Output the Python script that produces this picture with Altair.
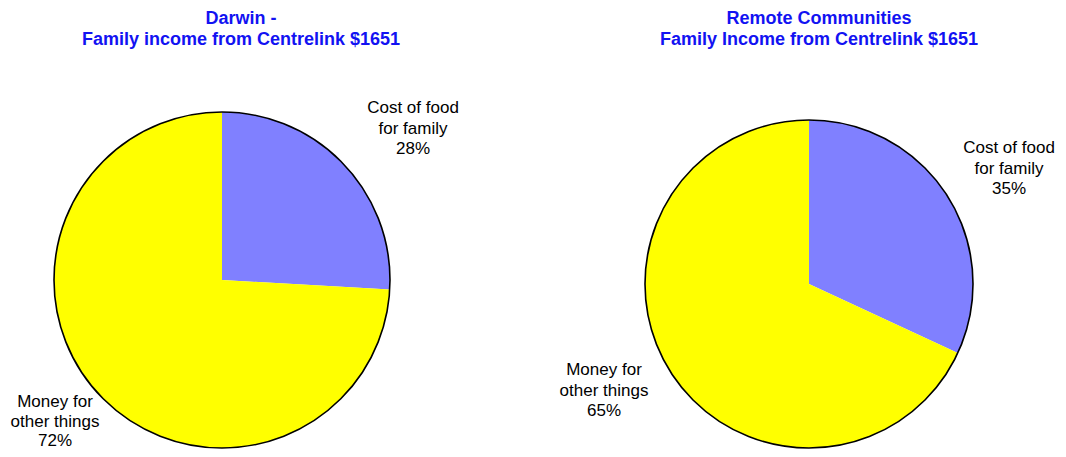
import altair as alt
import pandas as pd

# ---- data ----
categories = ["Cost of food for family", "Money for other things"]
darwin_share = [25.9, 74.1]      # slice sizes as drawn
remote_share = [31.9, 68.1]
darwin_pct_labels = ["28%", "72%"]  # printed labels
remote_pct_labels = ["35%", "65%"]
titles = [["Darwin -", "Family income from Centrelink $1651"],
          ["Remote Communities", "Family Income from Centrelink $1651"]]
slice_colors = ["#8080FF", "#FFFF00"]

W, H = 1050, 441
OFF = 8  # page margin

def pie(values, cx, cy, r):
    df = pd.DataFrame({"category": categories, "value": values, "idx": [0, 1]})
    arcs = alt.Chart(df).mark_arc(radius=r, strokeWidth=0).encode(
        theta=alt.Theta("value:Q", stack=True),
        color=alt.Color("category:N", scale=alt.Scale(domain=categories, range=slice_colors), legend=None),
        order=alt.Order("idx:Q"),
        x=alt.value(cx - OFF),
        y=alt.value(cy - OFF),
    )
    outline = alt.Chart(pd.DataFrame({"a": [1]})).mark_point(
        shape="circle", filled=False, stroke="black", strokeWidth=1.6, opacity=1
    ).encode(
        x=alt.value(cx - OFF),
        y=alt.value(cy - OFF),
        size=alt.value((2 * r) ** 2),
    )
    return arcs, outline

def text_block(lines, cx, cy, size=17, bold=False, color="black", lh=20.5):
    return alt.Chart(pd.DataFrame({"a": [1]})).mark_text(
        font="Liberation Sans", fontSize=size, fontWeight="bold" if bold else "normal",
        color=color, align="center", baseline="top", lineHeight=lh,
    ).encode(x=alt.value(cx - OFF), y=alt.value(cy - OFF), text=alt.value(lines))

a1, o1 = pie(darwin_share, 222, 280, 168)
a2, o2 = pie(remote_share, 809, 284, 164)

layers = [
    a1, o1, a2, o2,
    text_block(titles[0], 241, 10, size=18, bold=True, color="#1212F2", lh=20.5),
    text_block(titles[1], 819, 10, size=18, bold=True, color="#1212F2", lh=20.5),
    text_block(["Cost of food", "for family", darwin_pct_labels[0]], 413, 100),
    text_block(["Money for", "other things", darwin_pct_labels[1]], 55, 394, lh=19.5),
    text_block(["Cost of food", "for family", remote_pct_labels[0]], 1009, 140),
    text_block(["Money for", "other things", remote_pct_labels[1]], 604, 362),
]

chart = alt.layer(*layers).resolve_scale(theta="independent").properties(
    width=W, height=H, padding=0, autosize=alt.AutoSizeParams(type="none")
).configure_view(stroke=None)

chart.save("out.html", embed_options={"renderer": "svg", "actions": False})
